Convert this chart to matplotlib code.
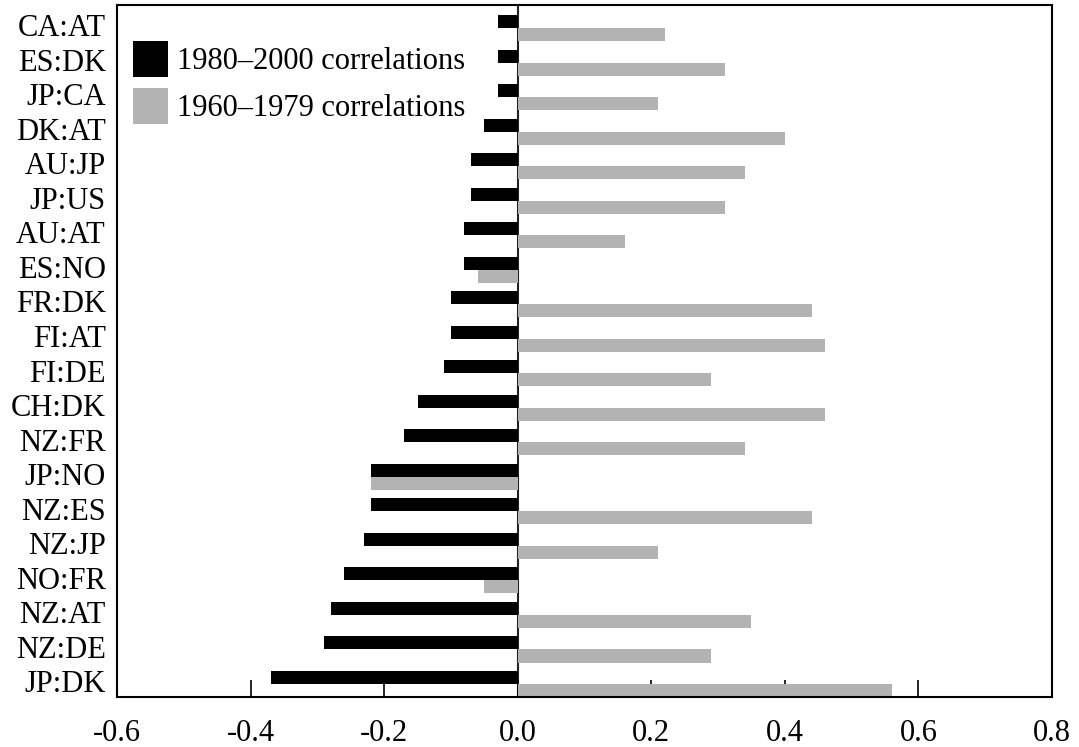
import matplotlib.pyplot as plt
import numpy as np
from matplotlib.patches import Patch

plt.rcParams['font.family'] = ['Liberation Serif', 'DejaVu Serif']

# Länderpaare von oben nach unten
pairs = ['CA:AT', 'ES:DK', 'JP:CA', 'DK:AT', 'AU:JP', 'JP:US', 'AU:AT', 'ES:NO',
         'FR:DK', 'FI:AT', 'FI:DE', 'CH:DK', 'NZ:FR', 'JP:NO', 'NZ:ES', 'NZ:JP',
         'NO:FR', 'NZ:AT', 'NZ:DE', 'JP:DK']
corr_1980_2000 = [-0.03, -0.03, -0.03, -0.05, -0.07, -0.07, -0.08, -0.08,
                  -0.10, -0.10, -0.11, -0.15, -0.17, -0.22, -0.22, -0.23,
                  -0.26, -0.28, -0.29, -0.37]
corr_1960_1979 = [0.22, 0.31, 0.21, 0.40, 0.34, 0.31, 0.16, -0.06,
                  0.44, 0.46, 0.29, 0.46, 0.34, -0.22, 0.44, 0.21,
                  -0.05, 0.35, 0.29, 0.56]
xticks = [-0.6, -0.4, -0.2, 0.0, 0.2, 0.4, 0.6, 0.8]

n = len(pairs)
pos = np.arange(n)[::-1]
h = 0.38

fig = plt.figure(figsize=(10.79, 7.47), dpi=100)
ax = fig.add_axes([0.1084, 0.0669, 0.975 - 0.1084, 0.9933 - 0.0669])

ax.barh(pos + h / 2, corr_1980_2000, height=h, color='black', zorder=2)
ax.barh(pos - h / 2, corr_1960_1979, height=h, color='#b3b3b3', zorder=2)
ax.axvline(0, color='#222222', lw=1.5, zorder=1)

ax.set_xlim(-0.6, 0.8)
ax.set_ylim(-h, n - 1 + h + 0.29)
ax.set_xticks(xticks)
ax.set_xticklabels(['%.1f' % t for t in xticks], fontsize=22)
ax.set_yticks(pos + 0.08)
ax.set_yticklabels(pairs, fontsize=22)
ax.tick_params(axis='y', length=0, pad=8)
ax.tick_params(axis='x', direction='in', length=12, width=1.2, pad=16)
for s in ax.spines.values():
    s.set_linewidth(1.5)

handles = [Patch(facecolor='black'), Patch(facecolor='#b3b3b3')]
ax.legend(handles, ['1980\u20132000 correlations', '1960\u20131979 correlations'],
          loc='upper left', bbox_to_anchor=(0.017, 0.948), frameon=False, fontsize=22,
          borderaxespad=0, borderpad=0,
          handlelength=1.14, handleheight=1.43, handletextpad=0.3, labelspacing=0.36)

fig.savefig('out.png', dpi=100)
